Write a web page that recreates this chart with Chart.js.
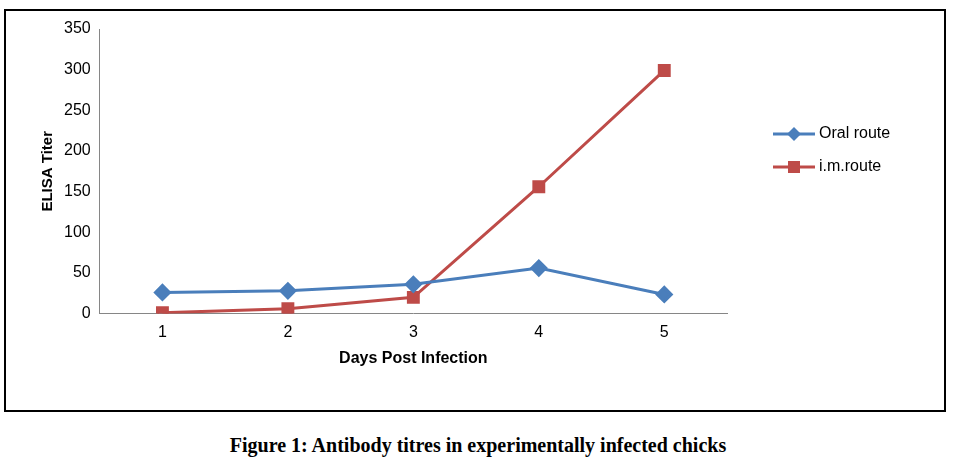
<!DOCTYPE html>
<html><head><meta charset="utf-8">
<script src="https://cdn.jsdelivr.net/npm/chart.js@4"></script>
<style>
body{margin:0;background:#fff;width:956px;height:472px;position:relative;font-family:Calibri,Carlito,"Liberation Sans",sans-serif}
#box{position:absolute;left:4px;top:9px;width:938px;height:399px;border:2px solid #000}
#cap{position:absolute;left:0;width:956px;top:434px;text-align:center;font-family:"Liberation Serif","DejaVu Serif",serif;font-size:20px;font-weight:bold;color:#000}
</style></head><body>
<div id="box"><canvas id="c" width="938" height="399"></canvas></div>
<div id="cap">Figure 1: Antibody titres in experimentally infected chicks</div>
<script>
const days = ['1', '2', '3', '4', '5'];
const oralRoute = [26, 28, 36, 56, 23.5];
const imRoute = [1, 6, 20, 156, 299];
const yTicks = [0, 50, 100, 150, 200, 250, 300, 350];

const legendPlugin = {
    id: 'sideLegend',
    afterDraw(chart) {
        const ctx = chart.ctx;
        chart.data.datasets.forEach((ds, i) => {
            const y = 123 + i * 33, x = 767;
            ctx.save();
            ctx.strokeStyle = ds.borderColor; ctx.lineWidth = 3;
            ctx.beginPath(); ctx.moveTo(x, y); ctx.lineTo(x + 42, y); ctx.stroke();
            ctx.fillStyle = ds.borderColor;
            if (ds.pointStyle === 'rectRot') {
                ctx.beginPath(); ctx.moveTo(x + 21, y - 7); ctx.lineTo(x + 28, y); ctx.lineTo(x + 21, y + 7); ctx.lineTo(x + 14, y); ctx.fill();
            } else ctx.fillRect(x + 15, y - 6, 12, 12);
            ctx.fillStyle = '#000'; ctx.font = '16px "Liberation Sans", sans-serif';
            ctx.textBaseline = 'middle'; ctx.fillText(ds.label, x + 46, y);
            ctx.restore();
        });
    }
};

new Chart(document.getElementById('c'), {
    type: 'line',
    data: {
        labels: days,
        datasets: [
            { label: 'Oral route', data: oralRoute, borderColor: '#4a7ebb', backgroundColor: '#4a7ebb',
              borderWidth: 3, pointStyle: 'rectRot', pointRadius: 7, tension: 0 },
            { label: 'i.m.route', data: imRoute, borderColor: '#be4b48', backgroundColor: '#be4b48',
              borderWidth: 3, pointStyle: 'rect', pointRadius: 7, tension: 0 }
        ]
    },
    options: {
        responsive: false,
        animation: false,
        layout: { padding: { top: 18, right: 217, bottom: 38, left: 29 } },
        plugins: { legend: { display: false }, tooltip: { enabled: false } },
        scales: {
            x: {
                offset: true,
                grid: { display: false, drawTicks: true, tickLength: 6, color: '#868686' },
                border: { color: '#868686' },
                ticks: { color: '#000', font: { size: 16 } },
                title: { display: true, text: 'Days Post Infection', color: '#000', font: { size: 16, weight: 'bold' } }
            },
            y: {
                min: 0, max: 350,
                afterBuildTicks: ax => { ax.ticks = yTicks.map(v => ({ value: v })); },
                grid: { display: false, tickLength: 6 },
                border: { color: '#868686' },
                ticks: { color: '#000', font: { size: 16 } },
                title: { display: true, text: 'ELISA Titer', color: '#000', font: { size: 15, weight: 'bold' } }
            }
        }
    },
    plugins: [legendPlugin]
});
</script>
</body></html>
